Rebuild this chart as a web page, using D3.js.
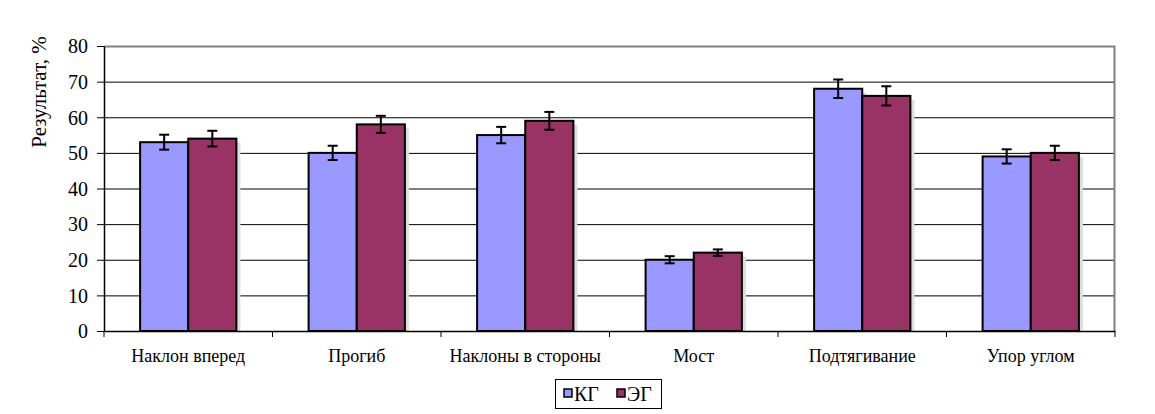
<!DOCTYPE html>
<html>
<head>
<meta charset="utf-8">
<script src="https://cdn.jsdelivr.net/npm/d3@7"></script>
<style>
  body { margin: 0; background: white; }
  svg text { font-family: "Liberation Serif", "Tinos", "DejaVu Serif", "Times New Roman", Times, serif !important; fill: black; }
</style>
</head>
<body>
<svg id="chart" width="1155" height="414"></svg>
<script>
const categories = ["Наклон вперед", "Прогиб", "Наклоны в стороны", "Мост", "Подтягивание", "Упор углом"];
const kg = [53, 50, 55, 20, 68, 49];
const eg = [54, 58, 59, 22, 66, 50];
const kgErr = [2.1, 2.0, 2.3, 1.0, 2.6, 2.0];
const egErr = [2.2, 2.4, 2.5, 0.9, 2.7, 2.0];
const yTicks = [0, 10, 20, 30, 40, 50, 60, 70, 80];
const seriesNames = ["КГ", "ЭГ"];
const seriesColors = ["#9999ff", "#993366"];

const svg = d3.select("#chart");

const plot = { left: 104, right: 1115, top: 46, bottom: 331 };

const x = d3.scaleBand()
  .domain(categories)
  .range([plot.left, plot.right]);

const y = d3.scaleLinear()
  .domain([0, 80])
  .range([plot.bottom, plot.top]);

// Excel-style gap width 150%: band = 2 bars + 1.5 bar gap
const barW = x.bandwidth() / 3.5;
const xs = d3.scaleBand()
  .domain([0, 1])
  .range([0.75 * barW, 2.75 * barW]);

// Gridlines
svg.append("g")
  .selectAll("line")
  .data(yTicks.filter((t) => t > 0 && t < 80))
  .join("line")
  .attr("x1", plot.left)
  .attr("x2", plot.right)
  .attr("y1", (d) => y(d) + 0.5)
  .attr("y2", (d) => y(d) + 0.5)
  .attr("stroke", "black")
  .attr("stroke-width", 1);

// Top and right border (gray)
svg.append("path")
  .attr("d", `M${plot.left},${plot.top + 0.5}H${plot.right - 0.5}V${plot.bottom}`)
  .attr("fill", "none")
  .attr("stroke", "#808080")
  .attr("stroke-width", 2);

const rows = categories.map((c, i) => [
  { cat: c, s: 0, v: kg[i], e: kgErr[i] },
  { cat: c, s: 1, v: eg[i], e: egErr[i] },
]).flat();

// Bar shadows
svg.append("g")
  .selectAll("rect")
  .data(rows)
  .join("rect")
  .attr("x", (d) => x(d.cat) + xs(d.s) + 4)
  .attr("y", (d) => y(d.v) + 4)
  .attr("width", barW)
  .attr("height", (d) => plot.bottom - y(d.v) - 4)
  .attr("fill", "#dedede");

// Bars
svg.append("g")
  .selectAll("rect")
  .data(rows)
  .join("rect")
  .attr("x", (d) => x(d.cat) + xs(d.s))
  .attr("y", (d) => y(d.v))
  .attr("width", barW)
  .attr("height", (d) => plot.bottom - y(d.v))
  .attr("fill", (d) => seriesColors[d.s])
  .attr("stroke", "black")
  .attr("stroke-width", 2);

// Error bars
const err = svg.append("g")
  .attr("stroke", "black")
  .attr("stroke-width", 2)
  .selectAll("g")
  .data(rows)
  .join("g")
  .attr("transform", (d) => `translate(${x(d.cat) + xs(d.s) + barW / 2},0)`);

err.append("line")
  .attr("y1", (d) => y(d.v + d.e))
  .attr("y2", (d) => y(d.v - d.e));
err.append("line")
  .attr("x1", -5).attr("x2", 5)
  .attr("y1", (d) => y(d.v + d.e))
  .attr("y2", (d) => y(d.v + d.e));
err.append("line")
  .attr("x1", -5).attr("x2", 5)
  .attr("y1", (d) => y(d.v - d.e))
  .attr("y2", (d) => y(d.v - d.e));

// Y axis
const yAxis = svg.append("g")
  .attr("transform", `translate(${plot.left},0)`)
  .call(d3.axisLeft(y).tickValues(yTicks).tickSize(7).tickPadding(9).tickSizeOuter(0));
yAxis.attr("font-family", null);
yAxis.select(".domain").attr("stroke", "black").attr("stroke-width", 1.5);
yAxis.selectAll(".tick line").attr("stroke", "black");
yAxis.selectAll(".tick text")
  .attr("font-size", 20)
  .attr("dy", "0.34em");

// X axis
const xAxis = svg.append("g")
  .attr("transform", `translate(0,${plot.bottom})`)
  .call(d3.axisBottom(x).tickSize(0).tickPadding(18));
xAxis.attr("font-family", null);
xAxis.select(".domain").attr("stroke", "black").attr("stroke-width", 1.5);
xAxis.selectAll(".tick text")
  .attr("font-size", 18);

// Category boundary ticks
svg.append("g")
  .selectAll("line")
  .data(categories.concat([null]))
  .join("line")
  .attr("x1", (d) => (d === null ? plot.right : x(d)))
  .attr("x2", (d) => (d === null ? plot.right : x(d)))
  .attr("y1", plot.bottom)
  .attr("y2", plot.bottom + 6)
  .attr("stroke", "black");

// Y title
svg.append("text")
  .attr("transform", "translate(46,92) rotate(-90)")
  .attr("text-anchor", "middle")
  .attr("font-size", 21)
  .text("Результат, %");

// Legend
const legend = svg.append("g").attr("transform", "translate(555,379)");
legend.append("rect")
  .attr("x", 0.5).attr("y", 0.5)
  .attr("width", 106).attr("height", 29)
  .attr("fill", "white")
  .attr("stroke", "black");

const items = legend.selectAll("g.item")
  .data(seriesNames)
  .join("g")
  .attr("class", "item")
  .attr("transform", (d, i) => `translate(${9 + i * 53},0)`);
items.append("rect")
  .attr("x", 0).attr("y", 10)
  .attr("width", 8).attr("height", 8)
  .attr("fill", (d, i) => seriesColors[i])
  .attr("stroke", "black")
  .attr("stroke-width", 1.5);
items.append("text")
  .attr("x", 10)
  .attr("y", 22)
  .attr("font-size", 20)
  .text((d) => d);
</script>
</body>
</html>
